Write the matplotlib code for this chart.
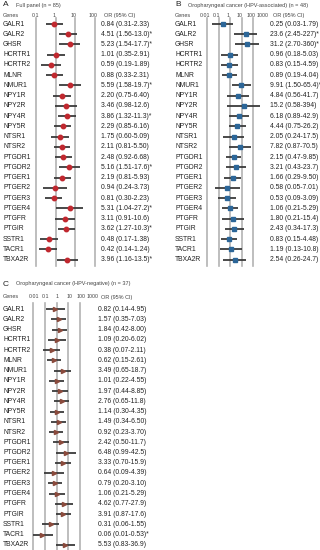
import numpy as np
import matplotlib
matplotlib.use("Agg")
import matplotlib.pyplot as plt
from matplotlib.transforms import blended_transform_factory

plt.rcParams['font.family'] = ['Liberation Sans', 'DejaVu Sans']

genes = ["GALR1", "GALR2", "GHSR", "HCRTR1", "HCRTR2", "MLNR", "NMUR1", "NPY1R",
         "NPY2R", "NPY4R", "NPY5R", "NTSR1", "NTSR2", "PTGDR1", "PTGDR2", "PTGER1",
         "PTGER2", "PTGER3", "PTGER4", "PTGFR", "PTGIR", "SSTR1", "TACR1", "TBXA2R"]

# Full panel (n = 85)
or_a = [0.84, 4.51, 5.23, 1.01, 0.59, 0.88, 5.59, 2.20, 3.46, 3.86, 2.29, 1.75,
        2.11, 2.48, 5.16, 2.19, 0.94, 0.81, 5.31, 3.11, 3.62, 0.48, 0.42, 3.96]
lo_a = [0.31, 1.56, 1.54, 0.35, 0.19, 0.33, 1.58, 0.75, 0.98, 1.32, 0.85, 0.60,
        0.81, 0.92, 1.51, 0.81, 0.24, 0.30, 1.04, 0.91, 1.27, 0.17, 0.14, 1.16]
hi_a = [2.33, 13.0, 17.7, 2.91, 1.89, 2.31, 19.7, 6.40, 12.6, 11.3, 6.16, 5.09,
        5.50, 6.68, 17.6, 5.93, 3.73, 2.23, 27.2, 10.6, 10.3, 1.38, 1.24, 13.5]
sig_a = [0, 1, 1, 0, 0, 0, 1, 0, 0, 1, 0, 0, 0, 0, 1, 0, 0, 0, 1, 0, 1, 0, 0, 1]

# HPV-associated (n = 48)
or_b = [0.25, 23.6, 31.2, 0.96, 0.83, 0.89, 9.91, 4.84, 15.2, 6.18, 4.44, 2.05,
        7.82, 2.15, 3.21, 1.66, 0.58, 0.53, 1.06, 1.80, 2.43, 0.83, 1.19, 2.54]
lo_b = [0.03, 2.45, 2.70, 0.18, 0.15, 0.19, 1.50, 0.56, 0.58, 0.89, 0.75, 0.24,
        0.87, 0.47, 0.43, 0.29, 0.05, 0.09, 0.21, 0.21, 0.34, 0.15, 0.13, 0.26]
hi_b = [1.79, 227, 360, 5.03, 4.59, 4.04, 65.4, 41.7, 394, 42.9, 26.2, 17.5,
        70.5, 9.85, 23.7, 9.50, 7.01, 3.09, 5.29, 15.4, 17.3, 4.48, 10.8, 24.7]
sig_b = [0, 1, 1, 0, 0, 0, 1, 0, 0, 0, 0, 0, 0, 0, 0, 0, 0, 0, 0, 0, 0, 0, 0, 0]

# HPV-negative (n = 37)
or_c = [0.82, 1.57, 1.84, 1.09, 0.38, 0.62, 3.49, 1.01, 1.97, 2.76, 1.14, 1.49,
        0.92, 2.42, 6.48, 3.33, 0.64, 0.79, 1.06, 4.62, 3.91, 0.31, 0.06, 5.53]
lo_c = [0.14, 0.35, 0.42, 0.20, 0.07, 0.15, 0.65, 0.22, 0.44, 0.65, 0.30, 0.34,
        0.23, 0.50, 0.99, 0.70, 0.09, 0.20, 0.21, 0.77, 0.87, 0.06, 0.01, 0.83]
hi_c = [4.95, 7.03, 8.00, 6.02, 2.11, 2.61, 18.7, 4.55, 8.85, 11.8, 4.35, 6.50,
        3.70, 11.7, 42.5, 15.9, 4.39, 3.10, 5.29, 27.9, 17.6, 1.55, 0.53, 36.9]
sig_c = [0, 0, 0, 0, 0, 0, 0, 0, 0, 0, 0, 0, 0, 0, 0, 0, 0, 0, 0, 0, 0, 0, 1, 0]

ticks_a = [0.1, 1, 10, 100]
ticks_bc = [0.01, 0.1, 1, 10, 100, 1000]

W, H = 320, 550
fig = plt.figure(figsize=(W / 100, H / 100), dpi=100)


def fmt(v):
    if v >= 100:
        return f"{v:.0f}"
    if v >= 10:
        return f"{v:.1f}"
    return f"{v:.2f}"


def panel(letter, title, x0, title_y, head_y, first, px0, xmin, decade, ticks, grid, xmax,
          ors, los, his, sigs, marker, color, or_x, ms, tick_shift):
    # px0: pixel of xmin, decade: pixels per decade
    ndec = np.log10(xmax) - np.log10(xmin)
    row = 10.25
    ax_top = first - 0.6 * row
    ax_bot = first + 23.6 * row
    ax = fig.add_axes([px0 / W, 1 - ax_bot / H, ndec * decade / W, (ax_bot - ax_top) / H])
    ax.set_xscale('log')
    ax.set_xlim(xmin, xmax)
    ax.set_ylim(23.6, -0.6)
    ax.axis('off')
    for g in grid:
        ax.axvline(g, color='#b3b3b3', lw=1.2, zorder=0, clip_on=False)
    y = np.arange(len(genes))
    ax.hlines(y, los, his, color='#3a3a3a', lw=1.3, zorder=2)
    ax.plot(ors, y, ls='none', marker=marker, ms=ms, mfc=color, mec=color, zorder=3)

    tr = blended_transform_factory(fig.transFigure, ax.transData)
    for i, g in enumerate(genes):
        ax.text(x0 / W, i, g, transform=tr, fontsize=4.9, va='center', ha='left',
                color='#222222', clip_on=False)
        s = f"{fmt(ors[i])} ({fmt(los[i])}-{fmt(his[i])})" + ("*" if sigs[i] else "")
        ax.text(or_x / W, i, s, transform=tr, fontsize=4.9, va='center', ha='left',
                color='#222222', clip_on=False)

    fig.text(x0 / W, 1 - title_y / H, letter, fontsize=6, va='center', ha='left', color='#222222')
    fig.text((x0 + 13) / W, 1 - title_y / H, title, fontsize=4.0, va='center', ha='left', color='#444444')
    hy = 1 - head_y / H
    fig.text(x0 / W, hy, "Genes", fontsize=4.0, va='center', ha='left', color='#444444')
    for t in ticks:
        px = px0 + (np.log10(t) - np.log10(xmin)) * decade + tick_shift
        fig.text(px / W, hy, f"{t:g}", fontsize=3.8, va='center', ha='center', color='#444444')
    fig.text((or_x + 3) / W, hy, "OR (95% CI)", fontsize=4.0, va='center', ha='left', color='#444444')


panel("A", "Full panel (n = 85)", 3, 5, 15.5, 24, 36, 0.1, 19.5, ticks_a, [0.1, 1, 10, 100], 100,
      or_a, lo_a, hi_a, sig_a, 'o', '#c0282f', 101, 3.2, -1)
panel("B", "Oropharyngeal cancer (HPV-associated) (n = 48)", 175, 5, 15.5, 24, 207, 0.01, 11.5,
      ticks_bc, [0.01, 0.1, 1, 10, 100], 1000,
      or_b, lo_b, hi_b, sig_b, 's', '#2c6698', 270, 3.0, -2)
panel("C", "Oropharyngeal cancer (HPV-negative) (n = 37)", 3, 284, 297, 309, 33, 0.01, 11.75,
      ticks_bc, [0.01, 0.1, 1, 10, 100], 1000,
      or_c, lo_c, hi_c, sig_c, '>', '#8a4a3c', 98, 3.0, 1)

fig.savefig("out.png", dpi=100)
